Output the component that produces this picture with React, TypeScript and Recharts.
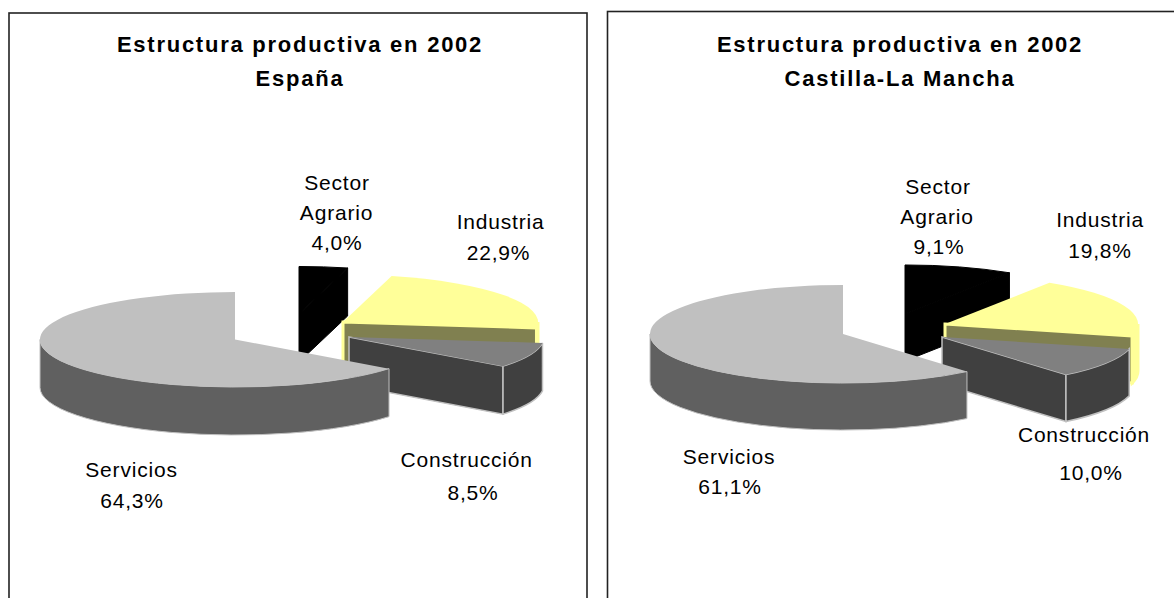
import React from "react";
import { PieChart, Pie } from "recharts";

const sectors = ["Sector Agrario", "Industria", "Construcción", "Servicios"];
const espanaValues = [4.0, 22.9, 8.5, 64.3];
const clmValues = [9.1, 19.8, 10.0, 61.1];
const titleLine1 = "Estructura productiva en 2002";
const espanaTitle = "España";
const clmTitle = "Castilla-La Mancha";

const toRows = (vals: number[]) => sectors.map((name, i) => ({ name, value: vals[i] }));

const FONT = "'Liberation Sans', Arial, sans-serif";

const colors: Record<string, any> = {
  "Sector Agrario": { top: "#000000", end: "#000000", outer: "#000000", stroke: "#000000", sw: 1 },
  Industria: { top: "#ffff99", end: "#808050", outer: "#ffff99", stroke: "#ffff99", sw: 3 },
  "Construcción": { top: "#808080", end: "#404040", outer: "#404040", stroke: "#c0c0c0", sw: 1.5 },
  Servicios: { top: "#c0c0c0", end: "#606060", outer: "#606060", stroke: "#c0c0c0", sw: 1 },
};

const rad = (d: number) => (d * Math.PI) / 180;

function makeShape(ratio: number, depth: number, offsets: Record<string, [number, number]>) {
  return (p: any) => {
    const c = colors[p.name];
    const [dx, dy] = offsets[p.name];
    const cx = p.cx + dx;
    const cy = p.cy + dy;
    const rx = p.outerRadius;
    const ry = rx * ratio;
    const t0 = 90 - p.startAngle;
    const t1 = 90 - p.endAngle;
    const pt = (t: number, d = 0): [number, number] => [
      cx + rx * Math.sin(rad(t)),
      cy - ry * Math.cos(rad(t)) + d,
    ];
    const [ax, ay] = pt(t0);
    const [bx, by] = pt(t1);
    const large = t1 - t0 > 180 ? 1 : 0;
    const topPath = `M${cx},${cy} L${ax},${ay} A${rx},${ry} 0 ${large} 1 ${bx},${by} Z`;

    const o0 = Math.max(t0, 90);
    const o1 = Math.min(t1, 270);
    let outerPath = "";
    if (o1 > o0) {
      const [a, b] = pt(o0);
      const [e, f] = pt(o1);
      const l = o1 - o0 > 180 ? 1 : 0;
      outerPath = `M${a},${b} A${rx},${ry} 0 ${l} 1 ${e},${f} L${e},${f + depth} A${rx},${ry} 0 ${l} 0 ${a},${b + depth} Z`;
    }
    const endVisible = t1 > 0 && t1 < 180;
    const endPath = `M${cx},${cy} L${bx},${by} L${bx},${by + depth} L${cx},${cy + depth} Z`;
    const topStroke = p.name === "Sector Agrario" ? "#000000" : "none";
    return (
      <g>
        {endVisible && <path d={endPath} fill={c.end} stroke={c.stroke} strokeWidth={c.sw} />}
        {outerPath && <path d={outerPath} fill={c.outer} stroke={c.stroke} strokeWidth={c.sw} />}
        <path d={topPath} fill={c.top} stroke={topStroke} />
      </g>
    );
  };
}

function makeLabel(layout: Record<string, { xs: number[]; ys: number[] }>) {
  return (p: any) => {
    const l = layout[p.name];
    const lines: string[] = [...String(p.name).split(" "), `${Number(p.value).toFixed(1).replace(".", ",")}%`];
    return (
      <g>
        {lines.map((s, i) => (
          <text
            key={i}
            x={l.xs[i]}
            y={l.ys[i]}
            textAnchor="middle"
            dominantBaseline="central"
            fontFamily={FONT}
            fontSize={21}
            letterSpacing={0.8}
            fill="#000"
          >
            {s}
          </text>
        ))}
      </g>
    );
  };
}

function Panel(props: any) {
  const { left, width, frameX, frameY, frameW, cx, cy, rx, ratio, depth, offsets, layout, values, sub, titleX, titleYs } = props;
  const titleStyle = { fontFamily: FONT, fontWeight: "bold", fontSize: 22, letterSpacing: 1.75 };
  return (
    <div style={{ position: "absolute", left, top: 0, width, height: 598 }}>
      <PieChart width={width} height={598} margin={{ top: 0, right: 0, bottom: 0, left: 0 }}>
        <rect x={frameX} y={frameY} width={frameW} height={620} fill="#fff" stroke="#222" strokeWidth={1.6} />
        <text x={titleX} y={titleYs[0]} textAnchor="middle" dominantBaseline="central" {...titleStyle}>
          {titleLine1}
        </text>
        <text x={titleX} y={titleYs[1]} textAnchor="middle" dominantBaseline="central" {...titleStyle}>
          {sub}
        </text>
        <Pie
          data={toRows(values)}
          dataKey="value"
          nameKey="name"
          cx={cx}
          cy={cy}
          outerRadius={rx}
          startAngle={90}
          endAngle={-270}
          stroke="none"
          isAnimationActive={false}
          shape={makeShape(ratio, depth, offsets)}
          label={makeLabel(layout)}
          labelLine={false}
        />
      </PieChart>
    </div>
  );
}

export default function App() {
  return (
    <div style={{ position: "absolute", left: 0, top: 0, width: 1174, height: 598, overflow: "hidden", background: "#fff" }}>
      <Panel
        left={0}
        width={600}
        frameX={9}
        frameY={13}
        frameW={578}
        cx={235}
        cy={339.5}
        rx={195}
        ratio={0.2436}
        depth={48}
        values={espanaValues}
        sub={espanaTitle}
        titleX={300}
        titleYs={[44, 78]}
        offsets={{
          "Sector Agrario": [64, -25.5],
          Industria: [108, -17.5],
          "Construcción": [114, -2.5],
          Servicios: [0, 0],
        }}
        layout={{
          "Sector Agrario": { xs: [337, 336.5, 337], ys: [182, 212, 242] },
          Industria: { xs: [500.5, 498.5], ys: [221, 252] },
          "Construcción": { xs: [466.7, 473], ys: [459, 492] },
          Servicios: { xs: [131.5, 132], ys: [469, 500] },
        }}
      />
      <Panel
        left={600}
        width={574}
        frameX={7.5}
        frameY={11.5}
        frameW={580}
        cx={243}
        cy={334}
        rx={193}
        ratio={0.254}
        depth={47}
        values={clmValues}
        sub={clmTitle}
        titleX={300}
        titleYs={[44, 78]}
        offsets={{
          "Sector Agrario": [62, -20],
          Industria: [102, -10],
          "Construcción": [99, 3],
          Servicios: [0, 0],
        }}
        layout={{
          "Sector Agrario": { xs: [338, 337, 339], ys: [186, 216, 246] },
          Industria: { xs: [500, 500], ys: [219, 250] },
          "Construcción": { xs: [484, 491], ys: [434, 472] },
          Servicios: { xs: [129, 130], ys: [456, 486] },
        }}
      />
    </div>
  );
}
